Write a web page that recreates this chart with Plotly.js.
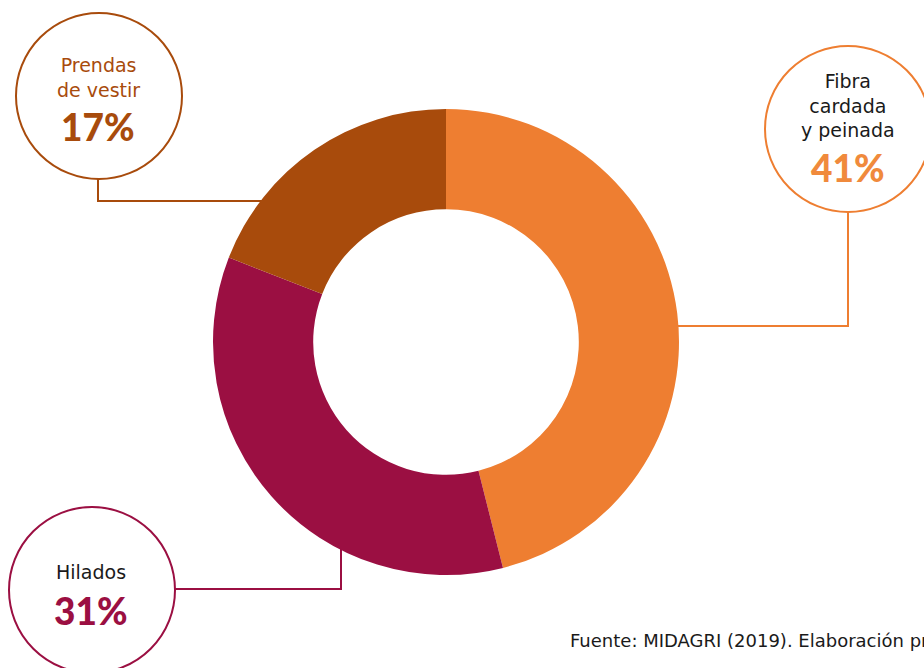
<!DOCTYPE html>
<html><head><meta charset="utf-8">
<script src="https://cdn.plot.ly/plotly-3.0.1.min.js"></script>
<style>html,body{margin:0;padding:0;background:#fff;}#chart{width:924px;height:668px;}</style>
</head><body><div id="chart"></div>
<script>
const categories = ["Fibra cardada y peinada", "Hilados", "Prendas de vestir"];
const labelLines = ["Fibra<br>cardada<br>y peinada", "Hilados", "Prendas<br>de vestir"];
const values = [41, 31, 17];
const percentLabels = ["41%", "31%", "17%"];
const colors = ["#EE7E31", "#9B0F42", "#A84B0C"];
const source = "Fuente: MIDAGRI (2019). Elaboración propia";

const W = 924, H = 668;
const px = x => x / W, py = y => 1 - y / H;

const LABEL_FONT = "'DejaVu Sans', sans-serif";
const PCT_FONT = "Lato, 'DejaVu Sans', sans-serif";
const trace = {
  type: "pie", labels: categories, values: values, sort: false,
  direction: "clockwise", rotation: 0, hole: 0.57,
  marker: {colors: colors, line: {width: 0}},
  textinfo: "none", hoverinfo: "label+percent", automargin: false,
  domain: {x: [px(213), px(679)], y: [py(575), py(109)]},
  showlegend: false
};

function circle(cx, cy, r, color) {
  return {type: "circle", xref: "paper", yref: "paper",
    x0: px(cx - r), x1: px(cx + r), y0: py(cy + r), y1: py(cy - r),
    line: {color: color, width: 2}, fillcolor: "rgba(0,0,0,0)", layer: "above"};
}
function path(points, color) {
  const d = points.map((p, i) => (i ? "L" : "M") + px(p[0]) + "," + py(p[1])).join(" ");
  return {type: "path", xref: "paper", yref: "paper", path: d,
    line: {color: color, width: 2}, layer: "below"};
}
function ann(text, x, y, size, color, family, weight, anchor) {
  return {text: text, xref: "paper", yref: "paper", x: px(x), y: py(y),
    xanchor: anchor || "center", yanchor: "middle", showarrow: false, borderpad: 0,
    font: {family: family, size: size, color: color, weight: weight || 400}};
}

const shapes = [
  circle(99, 96, 83, colors[2]),
  path([[98, 179], [98, 201], [262, 201]], colors[2]),
  circle(848, 129, 83, colors[0]),
  path([[848, 212], [848, 326], [676, 326]], colors[0]),
  circle(92, 590, 83, colors[1]),
  path([[175, 589], [341, 589], [341, 548]], colors[1])
];

const annotations = [
  ann(labelLines[2], 98, 77, 19, colors[2], LABEL_FONT),
  ann(percentLabels[2], 98, 127, 37, colors[2], PCT_FONT, 900),
  ann(labelLines[0], 848, 105.5, 19, "#1a1a1a", LABEL_FONT),
  ann(percentLabels[0], 848, 167, 37, "#F08A3C", PCT_FONT, 900),
  ann(labelLines[1], 91, 572, 19, "#1a1a1a", LABEL_FONT),
  ann(percentLabels[1], 91, 610, 37, colors[1], PCT_FONT, 900),
  ann(source, 569, 640, 18, "#1a1a1a", LABEL_FONT, 400, "left")
];

Plotly.newPlot("chart", [trace], {
  width: W, height: H, margin: {l: 0, r: 0, t: 0, b: 0},
  paper_bgcolor: "#fff", plot_bgcolor: "#fff",
  shapes: shapes, annotations: annotations, showlegend: false
}, {displayModeBar: false});
</script></body></html>
